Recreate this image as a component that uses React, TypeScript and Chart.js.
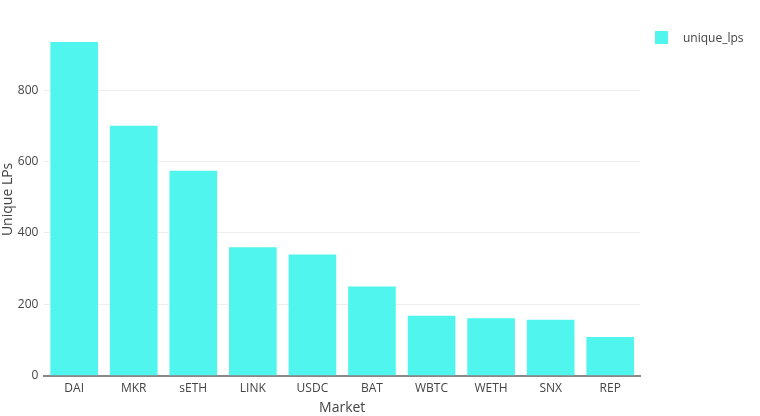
import { useEffect, useRef } from 'react';
import Chart from 'chart.js/auto';

// Values
const markets = ['DAI', 'MKR', 'sETH', 'LINK', 'USDC', 'BAT', 'WBTC', 'WETH', 'SNX', 'REP'];
const uniqueLps = [935, 700, 574, 360, 340, 250, 168, 161, 157, 109];
const yTicks = [0, 200, 400, 600, 800];
const seriesName = 'unique_lps';

const barColor = '#50f5ee';
const textColor = '#444';
const fontFamily = '"Open Sans", "Noto Sans", sans-serif';

export default function App() {
  const chartRef = useRef<HTMLCanvasElement>(null);
  const chartInstance = useRef<Chart | null>(null);

  useEffect(() => {
    if (!chartRef.current) return;
    const ctx = chartRef.current.getContext('2d');
    if (!ctx) return;

    if (chartInstance.current) {
      chartInstance.current.destroy();
      chartInstance.current = null;
    }

    chartInstance.current = new Chart(ctx, {
      type: 'bar',
      data: {
        labels: markets,
        datasets: [
          {
            label: seriesName,
            data: uniqueLps,
            backgroundColor: barColor,
            borderWidth: 0,
            barPercentage: 0.8,
            categoryPercentage: 1,
          },
        ],
      },
      options: {
        animation: false,
        responsive: true,
        maintainAspectRatio: false,
        layout: {
          padding: { top: 23, right: 120, bottom: 0, left: 0 },
        },
        plugins: {
          legend: { display: false },
          tooltip: { enabled: false },
        },
        scales: {
          x: {
            grid: { display: false, drawTicks: false },
            border: { display: true, color: '#888', width: 2 },
            ticks: {
              color: textColor,
              padding: 6,
              font: { family: fontFamily, size: 12 },
            },
            title: {
              display: true,
              text: 'Market',
              color: textColor,
              padding: { top: -3, bottom: 0 },
              font: { family: fontFamily, size: 14 },
            },
          },
          y: {
            min: 0,
            max: 988,
            afterBuildTicks: (scale) => {
              scale.ticks = yTicks.map((value) => ({ value }));
            },
            grid: { color: '#eeeeee', drawTicks: false },
            border: { display: false },
            ticks: {
              color: textColor,
              padding: 6,
              font: { family: fontFamily, size: 12 },
            },
            title: {
              display: true,
              text: 'Unique LPs',
              color: textColor,
              padding: { top: 0, bottom: -5 },
              font: { family: fontFamily, size: 14 },
            },
          },
        },
      },
    });

    return () => {
      if (chartInstance.current) {
        chartInstance.current.destroy();
        chartInstance.current = null;
      }
    };
  }, []);

  return (
    <div
      style={{
        position: 'absolute',
        left: 0,
        top: 0,
        width: 760,
        height: 416,
        background: '#fff',
        fontFamily,
      }}
    >
      <canvas ref={chartRef} />
      <div
        style={{
          position: 'absolute',
          left: 655,
          top: 31,
          display: 'flex',
          alignItems: 'center',
          fontSize: 12,
          color: textColor,
        }}
      >
        <span style={{ width: 13, height: 13, background: barColor, display: 'inline-block' }} />
        <span style={{ marginLeft: 15, lineHeight: '13px' }}>{seriesName}</span>
      </div>
    </div>
  );
}
